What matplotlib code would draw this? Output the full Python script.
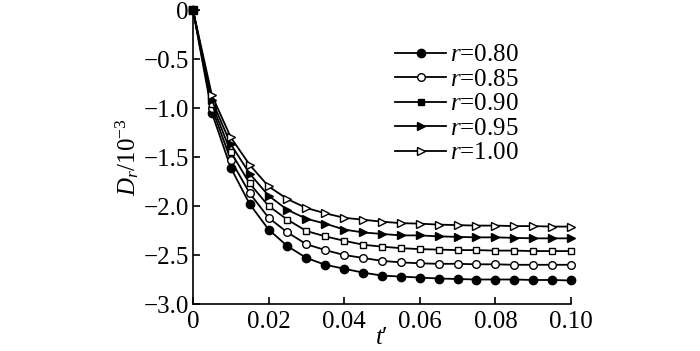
import matplotlib
matplotlib.use("Agg")
import matplotlib.pyplot as plt

plt.rcParams['font.family'] = ['Liberation Serif', 'DejaVu Serif']
plt.rcParams['mathtext.fontset'] = 'custom'
plt.rcParams['mathtext.rm'] = 'Liberation Serif'
plt.rcParams['mathtext.it'] = 'Liberation Serif:italic'

# dimensionless time t'
t = [0, 0.005, 0.01, 0.015, 0.02, 0.025, 0.03, 0.035, 0.04, 0.045, 0.05,
     0.055, 0.06, 0.065, 0.07, 0.075, 0.08, 0.085, 0.09, 0.095, 0.10]

# D_r / 1e-3 for each r
d_080 = [0, -1.05, -1.61, -1.98, -2.24, -2.41, -2.53, -2.60, -2.64, -2.68, -2.71,
         -2.72, -2.73, -2.74, -2.745, -2.75, -2.75, -2.75, -2.755, -2.755, -2.76]
d_085 = [0, -1.00, -1.53, -1.87, -2.12, -2.27, -2.39, -2.45, -2.50, -2.53, -2.56,
         -2.575, -2.585, -2.59, -2.59, -2.595, -2.595, -2.60, -2.60, -2.60, -2.60]
d_090 = [0, -0.96, -1.45, -1.77, -2.00, -2.14, -2.255, -2.31, -2.355, -2.395, -2.415,
         -2.43, -2.44, -2.445, -2.45, -2.45, -2.455, -2.455, -2.46, -2.46, -2.46]
d_095 = [0, -0.92, -1.37, -1.67, -1.895, -2.04, -2.13, -2.18, -2.24, -2.27, -2.285,
         -2.30, -2.30, -2.31, -2.315, -2.32, -2.32, -2.325, -2.33, -2.33, -2.33]
d_100 = [0, -0.87, -1.30, -1.58, -1.80, -1.93, -2.02, -2.075, -2.12, -2.14, -2.16,
         -2.175, -2.18, -2.19, -2.195, -2.20, -2.20, -2.205, -2.205, -2.21, -2.21]

labels = ['0.80', '0.85', '0.90', '0.95', '1.00']

series = [
    (d_080, dict(marker='o', ms=6, mfc='black')),
    (d_085, dict(marker='o', ms=5.5, mfc='white')),
    (d_090, dict(marker='s', ms=4.7, mfc='white')),
    (d_095, dict(marker='>', ms=6, mfc='black')),
    (d_100, dict(marker='>', ms=6, mfc='white')),
]

fig = plt.figure(figsize=(7, 3.51), dpi=100)
ax = fig.add_axes([0.2757, 0.1339, 0.54, 0.8376])

for (vals, style), lab in zip(series, labels):
    ax.plot(t, vals, color='black', lw=1.3, mec='black', mew=1.0,
            clip_on=False, label=f'$r$={lab}', **style)

# the common start point is drawn as a filled square on top
ax.plot(t[:1], d_090[:1], 's', ms=6, color='black', clip_on=False, zorder=5)

leg = ax.legend(loc='upper right', bbox_to_anchor=(0.862, 0.885),
                frameon=False, fontsize=18, handlelength=2.05, handletextpad=0.15,
                labelspacing=0.08, borderaxespad=0, borderpad=0)
leg.legend_handles[2].set_markerfacecolor('black')

ax.set_xlim(0, 0.10)
ax.set_ylim(-3.0, 0)
ax.set_xticks([0, 0.02, 0.04, 0.06, 0.08, 0.10])
ax.set_xticklabels(['0', '0.02', '0.04', '0.06', '0.08', '0.10'])
ax.set_yticks([0, -0.5, -1.0, -1.5, -2.0, -2.5, -3.0])
ax.set_yticklabels(['0', '\u22120.5', '\u22121.0', '\u22121.5', '\u22122.0', '\u22122.5', '\u22123.0'])
ax.tick_params(direction='in', length=5, width=1.2, labelsize=18)
ax.tick_params(axis='y', pad=3)
ax.tick_params(axis='x', pad=5)
ax.spines['top'].set_visible(False)
ax.spines['right'].set_visible(False)
for s in ('left', 'bottom'):
    ax.spines[s].set_linewidth(1.2)

ax.set_xlabel('$t$\u2032', fontsize=18, labelpad=-4)
ax.set_ylabel('$D_r/10^{-3}$', fontsize=18, labelpad=2)

fig.savefig('out.png', dpi=100)
